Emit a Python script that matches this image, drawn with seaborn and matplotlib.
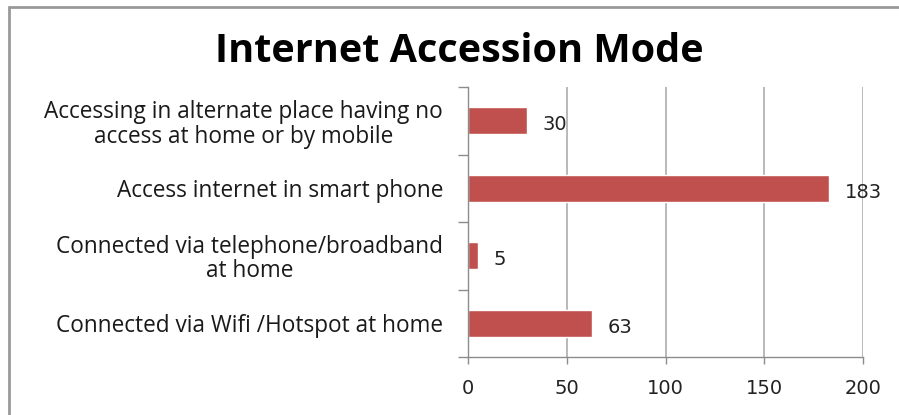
import matplotlib
matplotlib.use("Agg")
import matplotlib.pyplot as plt
import seaborn as sns
import pandas as pd
from matplotlib.lines import Line2D

categories = [
    "Accessing in alternate place having no\naccess at home or by mobile",
    "Access internet in smart phone",
    "Connected via telephone/broadband\nat home",
    "Connected via Wifi /Hotspot at home",
]
values = [30, 183, 5, 63]
xticks = [0, 50, 100, 150, 200]
title = "Internet Accession Mode"

sns.set_theme(style="white")
plt.rcParams["font.family"] = ["Open Sans", "DejaVu Sans"]

df = pd.DataFrame({"mode": categories, "count": values})

fig = plt.figure(figsize=(8.99, 4.15), dpi=100)
ax = fig.add_axes([0.5206, 0.1398, 0.4394, 0.6504])

sns.barplot(data=df, x="count", y="mode", order=categories, color="#C0504D",
            saturation=1, width=0.4, ax=ax, orient="h")

ax.set_xlim(0, 200)
ax.set_ylim(3.5, -0.5)
ax.set_xticks(xticks)
ax.set_xticklabels([str(t) for t in xticks], fontfamily="DejaVu Sans", fontsize=14, color="#222222")
ax.set_xlabel("")
ax.set_ylabel("")

ax.grid(axis="x", color="#A6A6A6", linewidth=1.1)
ax.set_axisbelow(True)
for s in ["top", "right"]:
    ax.spines[s].set_visible(False)
for s in ["left", "bottom"]:
    ax.spines[s].set_color("#8C8C8C")
    ax.spines[s].set_linewidth(1.0)

ax.tick_params(axis="x", which="major", bottom=True, length=5, width=1, color="#8C8C8C", pad=11)
ax.tick_params(axis="y", which="major", left=False, length=0, pad=18)
ax.set_yticks([0.5 + i - 1 for i in range(5)], minor=True)
ax.tick_params(axis="y", which="minor", left=True, length=7, width=1, color="#8C8C8C")
for lab in ax.get_yticklabels():
    lab.set_fontsize(16.3)
    lab.set_multialignment("center")
    lab.set_color("#1a1a1a")
    lab.set_linespacing(1.04)

for i, v in enumerate(values):
    ax.annotate(str(v), (v, i), xytext=(11, -3), textcoords="offset points",
                va="center", ha="left", fontsize=14, fontfamily="DejaVu Sans", color="#222222")

fig.text(0.511, 0.876, title, ha="center", va="center", fontsize=28.5, fontweight="bold",
         color="black")

fig.add_artist(Line2D([0.0095, 0.0095], [0.0, 0.982], transform=fig.transFigure,
                      color="#999999", linewidth=2))
fig.add_artist(Line2D([0.0095, 1.0], [0.982, 0.982], transform=fig.transFigure,
                      color="#999999", linewidth=2))

fig.savefig("out.png", dpi=100)
